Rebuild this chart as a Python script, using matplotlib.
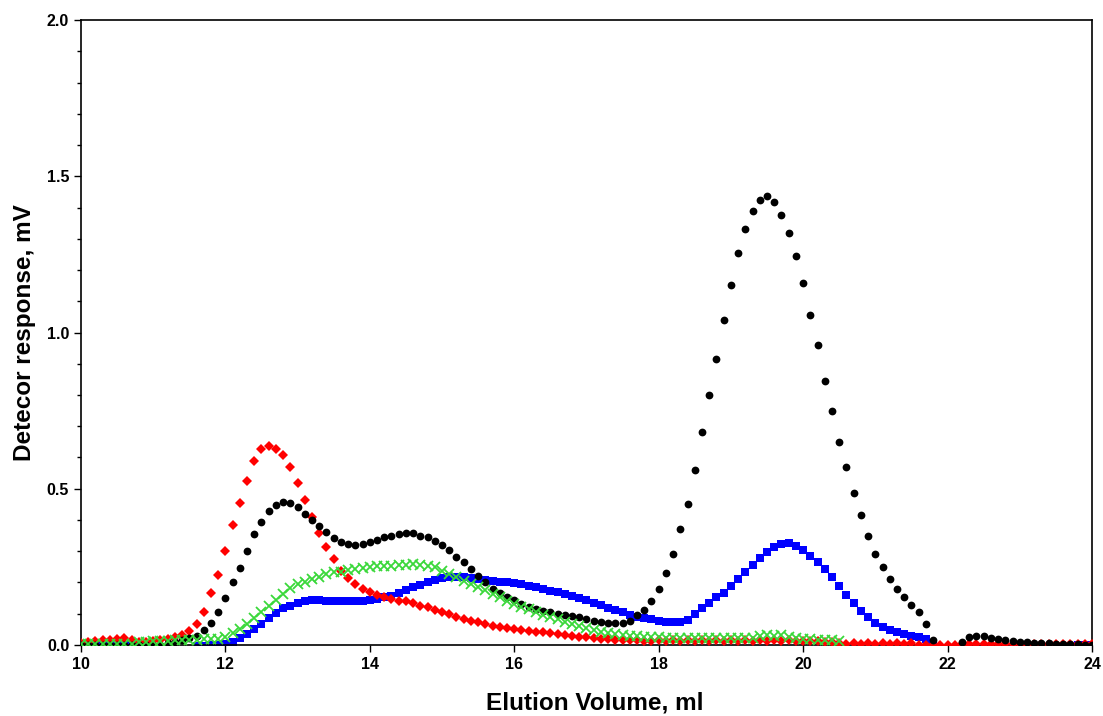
import numpy as np
import matplotlib
matplotlib.use("Agg")
import matplotlib.pyplot as plt
from matplotlib.ticker import MultipleLocator

# elution volume grid (ml), one reading every 0.1 ml
volume = np.round(np.arange(10.0, 24.0001, 0.1), 1)

# black circles
black = [
    0.0, 0.0, 0.0, 0.0, 0.0, 0.0, 0.0, 0.0, 0.0, 0.0,          # 10.0-10.9
    0.0, 0.0, 0.005, 0.01, 0.017, 0.023, 0.03, 0.047, 0.07, 0.105,  # 11.0-11.9
    0.15, 0.20, 0.245, 0.30, 0.355, 0.393, 0.43, 0.448, 0.456, 0.454,  # 12.x
    0.44, 0.42, 0.40, 0.38, 0.36, 0.343, 0.33, 0.322, 0.32, 0.322,  # 13.x
    0.328, 0.335, 0.344, 0.35, 0.354, 0.358, 0.357, 0.35, 0.345, 0.333,  # 14.x
    0.321, 0.303, 0.283, 0.264, 0.243, 0.222, 0.20, 0.18, 0.166, 0.155,  # 15.x
    0.143, 0.132, 0.122, 0.116, 0.11, 0.105, 0.10, 0.097, 0.092, 0.088,  # 16.x
    0.083, 0.078, 0.074, 0.071, 0.07, 0.07, 0.076, 0.096, 0.113, 0.14,  # 17.x
    0.18, 0.23, 0.29, 0.37, 0.45, 0.56, 0.68, 0.80, 0.915, 1.04,  # 18.x
    1.153, 1.255, 1.33, 1.39, 1.425, 1.436, 1.418, 1.375, 1.32, 1.245,  # 19.x
    1.16, 1.055, 0.96, 0.845, 0.75, 0.651, 0.568, 0.485, 0.415, 0.35,  # 20.x
    0.29, 0.25, 0.21, 0.18, 0.152, 0.128, 0.104, 0.068, 0.016, -0.03,  # 21.x
    -0.03, -0.03, 0.01, 0.024, 0.029, 0.028, 0.023, 0.019, 0.015, 0.012,  # 22.x
    0.01, 0.008, 0.007, 0.006, 0.005, 0.004, 0.003, 0.003, 0.002, 0.001,  # 23.x
    0.0,
]

# red diamonds
red = [
    0.005, 0.008, 0.012, 0.015, 0.017, 0.02, 0.021, 0.015, 0.01, 0.01,
    0.012, 0.016, 0.02, 0.024, 0.033, 0.045, 0.068, 0.105, 0.165, 0.225,
    0.30, 0.385, 0.455, 0.525, 0.588, 0.627, 0.638, 0.628, 0.607, 0.57,
    0.518, 0.465, 0.41, 0.357, 0.315, 0.275, 0.238, 0.215, 0.196, 0.18,
    0.168, 0.16, 0.154, 0.148, 0.141, 0.141, 0.133, 0.126, 0.12, 0.112,
    0.107, 0.099, 0.091, 0.084, 0.078, 0.072, 0.066, 0.062, 0.058, 0.054,
    0.05, 0.047, 0.045, 0.043, 0.041, 0.038, 0.035, 0.032, 0.029, 0.026,
    0.024, 0.022, 0.02, 0.018, 0.017, 0.016, 0.015, 0.015, 0.014, 0.014,
    0.015, 0.014, 0.015, 0.014, 0.015, 0.014, 0.015, 0.014, 0.015, 0.014,
    0.015, 0.014, 0.015, 0.014, 0.015, 0.014, 0.015, 0.014, 0.015, 0.014,
    0.013, 0.012, 0.012, 0.011, 0.01, 0.005, 0.004, 0.005, 0.004, 0.005,
    0.004, 0.005, 0.004, 0.005, 0.004, 0.005, 0.0, 0.0, 0.0, 0.0,
    0.0, 0.0, 0.004, 0.003, 0.004, 0.003, 0.004, 0.003, 0.004, 0.003,
    0.004, 0.003, 0.004, 0.003, 0.004, 0.003, 0.004, 0.003, 0.004, 0.003,
    0.003,
]

# blue squares
blue = [
    0.0, 0.0, 0.0, 0.0, 0.0, 0.0, 0.0, 0.0, -0.03, -0.03,
    -0.03, -0.03, -0.03, -0.03, -0.03, -0.03, -0.003, -0.002, 0.0, 0.0,
    0.004, 0.01, 0.022, 0.034, 0.05, 0.067, 0.087, 0.103, 0.118, 0.126,
    0.133, 0.14, 0.143, 0.143, 0.142, 0.14, 0.14, 0.14, 0.141, 0.142,
    0.145, 0.148, 0.152, 0.158, 0.166, 0.176, 0.185, 0.193, 0.201, 0.208,
    0.214, 0.218, 0.219, 0.217, 0.215, 0.212, 0.209, 0.206, 0.203, 0.20,
    0.197, 0.194, 0.189, 0.184, 0.179, 0.173, 0.168, 0.162, 0.156, 0.15,
    0.143, 0.135, 0.127, 0.118, 0.111, 0.104, 0.096, 0.091, 0.086, 0.082,
    0.077, 0.073, 0.072, 0.074, 0.08, 0.10, 0.118, 0.135, 0.152, 0.166,
    0.188, 0.21, 0.234, 0.255, 0.278, 0.298, 0.314, 0.323, 0.325, 0.318,
    0.304, 0.286, 0.264, 0.242, 0.216, 0.188, 0.16, 0.133, 0.108, 0.088,
    0.07, 0.057, 0.048, 0.041, 0.034, 0.028, 0.024, 0.02, 0.0, -0.03,
    -0.03, -0.03, -0.03, -0.03, -0.03, -0.03, -0.03, -0.03, -0.03, -0.03,
    -0.03, -0.03, -0.03, -0.03, -0.03, -0.03, -0.03, -0.03, 0.0, 0.0,
    0.0,
]

# green crosses (recorded up to 20.5 ml)
green = [
    0.003, 0.004, 0.003, 0.004, 0.003, 0.004, 0.003, 0.004, 0.008, 0.01,
    0.012, 0.013, 0.014, 0.015, 0.015, 0.016, 0.017, 0.018, 0.018, 0.019,
    0.024, 0.037, 0.052, 0.067, 0.086, 0.105, 0.125, 0.144, 0.164, 0.182,
    0.194, 0.202, 0.21, 0.217, 0.226, 0.233, 0.235, 0.239, 0.244, 0.247,
    0.249, 0.252, 0.253, 0.254, 0.255, 0.256, 0.258, 0.257, 0.253, 0.248,
    0.238, 0.227, 0.218, 0.206, 0.194, 0.185, 0.176, 0.164, 0.152, 0.142,
    0.132, 0.123, 0.114, 0.106, 0.097, 0.09, 0.082, 0.075, 0.067, 0.06,
    0.054, 0.048, 0.043, 0.038, 0.035, 0.032, 0.03, 0.028, 0.027, 0.026,
    0.025, 0.023, 0.022, 0.023, 0.021, 0.022, 0.023, 0.021, 0.022, 0.023,
    0.021, 0.022, 0.023, 0.022, 0.028, 0.032, 0.03, 0.031, 0.026, 0.022,
    0.02, 0.018, 0.017, 0.016, 0.015, 0.012,
]
green = green + [np.nan] * (len(volume) - len(green))

plt.rcParams["font.family"] = ["Liberation Sans", "DejaVu Sans"]

fig = plt.figure(figsize=(11.03, 7.16), dpi=100)
ax = fig.add_axes([0.0734, 0.0992, 0.9166, 0.8728])

ax.plot(volume, blue, "s", color="#0000ff", markersize=5.8, markeredgewidth=0, zorder=2)
ax.plot(volume, red, "D", color="#ff0000", markersize=5.6, markeredgewidth=0, zorder=3)
ax.plot(volume, black, "o", color="black", markersize=5.6, markeredgewidth=0, zorder=4)
ax.plot(volume, green, "x", color="#3ad83a", markersize=6.8, markeredgewidth=1.3, zorder=5)

ax.set_xlim(10, 24)
ax.set_ylim(0, 2.0)
ax.xaxis.set_major_locator(MultipleLocator(2))
ax.yaxis.set_major_locator(MultipleLocator(0.5))
ax.yaxis.set_minor_locator(MultipleLocator(0.1))
ax.yaxis.set_major_formatter(plt.FormatStrFormatter("%.1f"))
ax.tick_params(which="major", direction="out", length=5, width=1, labelsize=11.5)
ax.tick_params(which="minor", direction="out", length=3, width=1)
ax.tick_params(axis="y", which="both", right=False)
for lbl in ax.get_xticklabels() + ax.get_yticklabels():
    lbl.set_fontweight("bold")
for s in ax.spines.values():
    s.set_linewidth(1.2)

ax.set_xlabel("Elution Volume, ml", fontsize=17.5, fontweight="bold", labelpad=13)
ax.set_ylabel("Detecor response, mV", fontsize=17.5, fontweight="bold", labelpad=8)
ax.xaxis.set_label_coords(0.508, -0.075)

fig.savefig("out.png", dpi=100)
